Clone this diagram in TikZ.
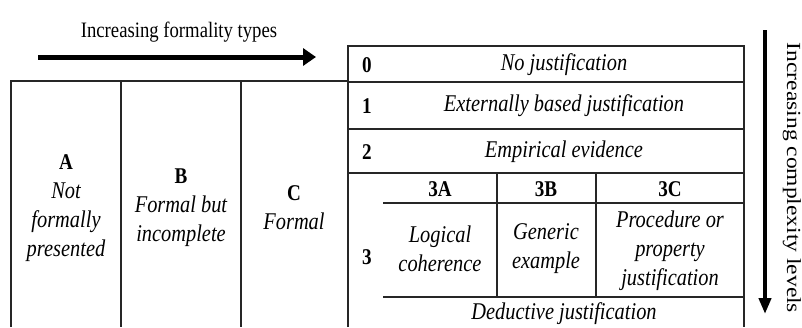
\documentclass[tikz,border=0pt]{standalone}
\usepackage{fontspec}
\setmainfont{Liberation Serif}[FakeStretch=0.85]
\newfontfamily\plainfont{Liberation Serif}
\usetikzlibrary{arrows.meta}
\tikzset{
  grid/.style={line width=1.3pt, draw=black!85},
  it/.style={font=\fontsize{24}{29}\selectfont\itshape, align=center, inner sep=0pt},
  bd/.style={font=\fontsize{22.5}{29}\selectfont\bfseries, inner sep=0pt},
  cell/.style={font=\fontsize{24}{29}\selectfont, align=center, inner sep=0pt},
  bigarrow/.style={line width=5pt, -{Triangle[length=13pt,width=17pt]}},
}
\begin{document}
\begin{tikzpicture}[x=1pt,y=-1pt]
\useasboundingbox (0,0) rectangle (802,327);
% title arrow
\node[font=\fontsize{22}{26}\selectfont] (ftitle) at (179,32) {Increasing formality types};
\coordinate (fa) at (38,57);
\coordinate (fb) at (316,57);
\draw[bigarrow] (fa) -- (fb);
% vertical arrow
\coordinate (va) at (765,30);
\coordinate (vb) at (765,314);
\draw[line width=4pt, -{Triangle[length=16pt,width=12pt]}] (va) -- (vb);
\node[font=\plainfont\fontsize{23.5}{26}\selectfont, rotate=-90, inner sep=0pt] (ctitle) at (792,178) {\scalebox{1}[0.85]{Increasing complexity levels}};
% left table
\draw[grid] (11,327) -- (11,81) -- (348,81);
\draw[grid] (121,81) -- (121,327);
\draw[grid] (241,81) -- (241,327);
% right table
\draw[grid] (348,327) -- (348,46) -- (744,46) -- (744,327);
\draw[grid] (348,82) -- (744,82);
\draw[grid] (348,129) -- (744,129);
\draw[grid] (348,173) -- (744,173);
\draw[grid] (383,203) -- (744,203);
\draw[grid] (383,297) -- (744,297);
\draw[grid] (497,173) -- (497,297);
\draw[grid] (596,173) -- (596,297);
% left table texts
\node[cell] (A) at (66,208) {\fontsize{22.5}{29}\selectfont\bfseries A\\\itshape Not\\\itshape formally\\\itshape presented};
\node[cell] (B) at (181,208) {\fontsize{22.5}{29}\selectfont\bfseries B\\\itshape Formal but\\\itshape incomplete};
\node[cell] (C) at (294,208) {\fontsize{22.5}{29}\selectfont\bfseries C\\\itshape Formal};
% right table texts
\node[bd] (n0) at (367,65) {0};
\node[bd] (n1) at (367,106) {1};
\node[bd] (n2) at (367,152) {2};
\node[bd] (n3) at (367,257) {3};
\node[it] (t0) at (564,65) {No justification};
\node[it] (t1) at (564,106) {Externally based justification};
\node[it] (t2) at (564,152) {Empirical evidence};
\node[bd] (h3a) at (440,189) {3A};
\node[bd] (h3b) at (546,189) {3B};
\node[bd] (h3c) at (670,189) {3C};
\node[it] (c3a) at (440,249) {Logical\\coherence};
\node[it] (c3b) at (546,249) {Generic\\example};
\node[it] (c3c) at (670,251) {Procedure or\\property\\justification};
\node[it] (t3) at (564,314) {Deductive justification};
\end{tikzpicture}
\end{document}
